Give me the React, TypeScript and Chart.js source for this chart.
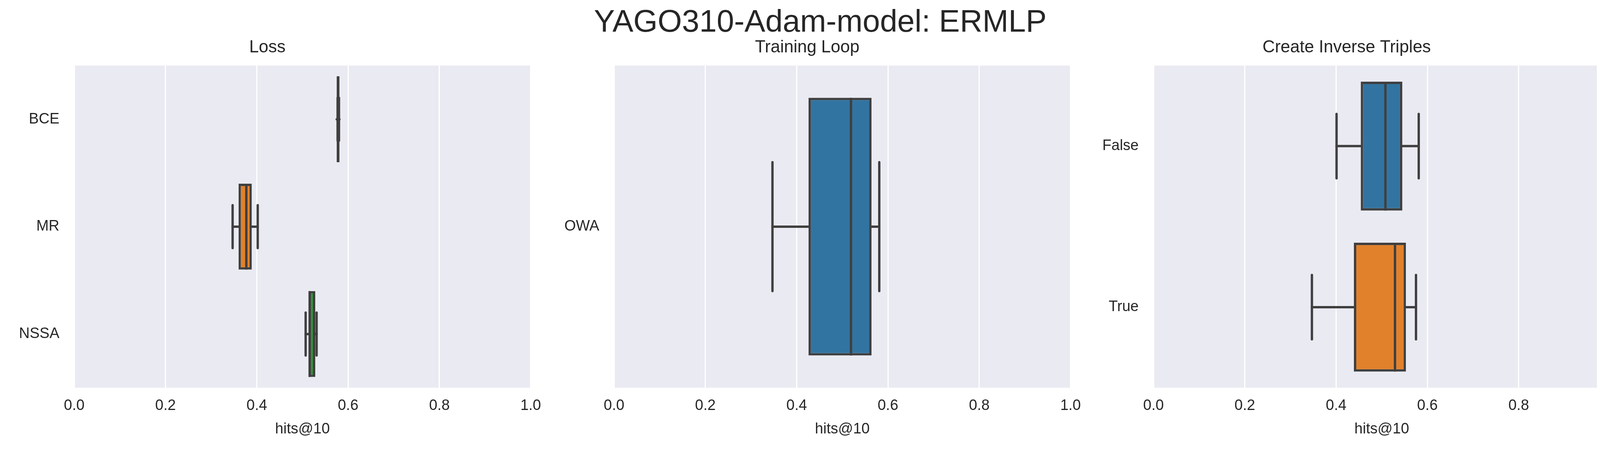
import { useEffect, useRef } from "react";
import Chart from "chart.js/auto";

// box stats per panel: [min, q1, median, q3, max]
const lossLabels = ["BCE", "MR", "NSSA"];
const lossMin = [0.577, 0.347, 0.507];
const lossQ1 = [0.575, 0.36, 0.513];
const lossMed = [0.578, 0.377, 0.516];
const lossQ3 = [0.581, 0.389, 0.528];
const lossMax = [0.58, 0.402, 0.531];

const loopLabels = ["OWA"];
const loopMin = [0.347];
const loopQ1 = [0.426];
const loopMed = [0.519];
const loopQ3 = [0.564];
const loopMax = [0.581];

const inverseLabels = ["False", "True"];
const inverseMin = [0.401, 0.347];
const inverseQ1 = [0.454, 0.439];
const inverseMed = [0.508, 0.529];
const inverseQ3 = [0.545, 0.553];
const inverseMax = [0.581, 0.575];

const xTicks = [0, 0.2, 0.4, 0.6, 0.8, 1.0];
const palette = ["#3274a1", "#e1812c", "#3a923a"];
const FONT = "'Liberation Sans', Arial, sans-serif";
const EDGE = "#3f3f3f";
const Y_AXIS_W = 190;
const PLOT_W = 1179;

interface PanelProps {
  title: string;
  labels: string[];
  mins: number[];
  q1: number[];
  med: number[];
  q3: number[];
  maxs: number[];
  left: number;
}

function BoxPanel({ title, labels, mins, q1, med, q3, maxs, left }: PanelProps) {
  const canvasRef = useRef<HTMLCanvasElement | null>(null);

  useEffect(() => {
    if (!canvasRef.current) return;
    const whiskers = {
      id: "whiskers",
      beforeDraw(chart: any) {
        const { ctx, chartArea: a } = chart;
        ctx.save();
        ctx.fillStyle = "#eaeaf2";
        ctx.fillRect(a.left, a.top, a.right - a.left, a.bottom - a.top);
        ctx.restore();
      },
      afterDatasetsDraw(chart: any) {
        const { ctx } = chart;
        const x = chart.scales.x;
        const y = chart.scales.y;
        const band = (y.bottom - y.top) / labels.length;
        ctx.save();
        ctx.strokeStyle = EDGE;
        ctx.lineWidth = 6;
        ctx.lineCap = "round";
        labels.forEach((_, i) => {
          const cy = y.getPixelForValue(i);
          const capH = band * 0.2;
          const boxH = band * 0.4;
          const line = (x1: number, y1: number, x2: number, y2: number) => {
            ctx.beginPath();
            ctx.moveTo(x1, y1);
            ctx.lineTo(x2, y2);
            ctx.stroke();
          };
          line(x.getPixelForValue(mins[i]), cy, x.getPixelForValue(q1[i]), cy);
          line(x.getPixelForValue(q3[i]), cy, x.getPixelForValue(maxs[i]), cy);
          line(x.getPixelForValue(mins[i]), cy - capH, x.getPixelForValue(mins[i]), cy + capH);
          line(x.getPixelForValue(maxs[i]), cy - capH, x.getPixelForValue(maxs[i]), cy + capH);
          ctx.lineCap = "butt";
          line(x.getPixelForValue(med[i]), cy - boxH, x.getPixelForValue(med[i]), cy + boxH);
          ctx.lineCap = "round";
        });
        ctx.restore();
      },
    };

    const chart = new Chart(canvasRef.current, {
      type: "bar",
      data: {
        labels,
        datasets: [
          {
            data: labels.map((_, i) => [q1[i], q3[i]]) as any,
            backgroundColor: labels.map((_, i) => palette[i % palette.length]),
            borderColor: EDGE,
            borderWidth: 6,
            borderSkipped: false,
            categoryPercentage: 1,
            barPercentage: 0.8,
          },
        ],
      },
      options: {
        indexAxis: "y",
        animation: false,
        responsive: false,
        layout: { padding: { left: 0, right: 40, top: 0, bottom: 0 } },
        plugins: {
          legend: { display: false },
          tooltip: { enabled: false },
          title: {
            display: true,
            text: title,
            color: "#262626",
            font: { family: FONT, size: 44, weight: "normal" },
            padding: { top: 0, bottom: 20 },
          },
        },
        scales: {
          x: {
            type: "linear",
            min: 0,
            max: 1,
            afterBuildTicks: (s: any) => {
              s.ticks = xTicks.map((v) => ({ value: v }));
            },
            afterFit: (s: any) => {
              s.height = 133;
            },
            grid: { color: "#ffffff", lineWidth: 3, drawTicks: false },
            border: { display: false },
            ticks: {
              color: "#262626",
              padding: 24,
              font: { family: FONT, size: 38 },
              callback: (v: any) => Number(v).toFixed(1),
            },
            title: {
              display: true,
              text: "hits@10",
              color: "#262626",
              font: { family: FONT, size: 38 },
              padding: { top: 4 },
            },
          },
          y: {
            afterFit: (s: any) => {
              s.width = Y_AXIS_W;
            },
            grid: { display: false },
            border: { display: false },
            ticks: {
              color: "#262626",
              padding: 30,
              font: { family: FONT, size: 38 },
            },
          },
        },
      },
      plugins: [whiskers],
    });
    return () => chart.destroy();
  }, []);

  return (
    <canvas
      ref={canvasRef}
      width={Y_AXIS_W + PLOT_W + 40}
      height={1030}
      style={{ position: "absolute", left: left - Y_AXIS_W, top: 95 }}
    />
  );
}

export default function App() {
  return (
    <div style={{ position: "relative", width: 4200, height: 1200, background: "#fff", fontFamily: FONT, margin: -8 }}>
      <div
        style={{
          position: "absolute",
          top: 8,
          left: 0,
          width: 4200,
          textAlign: "center",
          fontSize: 80,
          color: "#262626",
        }}
      >
        YAGO310-Adam-model: ERMLP
      </div>
      <BoxPanel title="Loss" labels={lossLabels} mins={lossMin} q1={lossQ1} med={lossMed} q3={lossQ3} maxs={lossMax} left={190} />
      <BoxPanel title="Training Loop" labels={loopLabels} mins={loopMin} q1={loopQ1} med={loopMed} q3={loopQ3} maxs={loopMax} left={1572} />
      <BoxPanel title="Create Inverse Triples" labels={inverseLabels} mins={inverseMin} q1={inverseQ1} med={inverseMed} q3={inverseQ3} maxs={inverseMax} left={2953} />
    </div>
  );
}
